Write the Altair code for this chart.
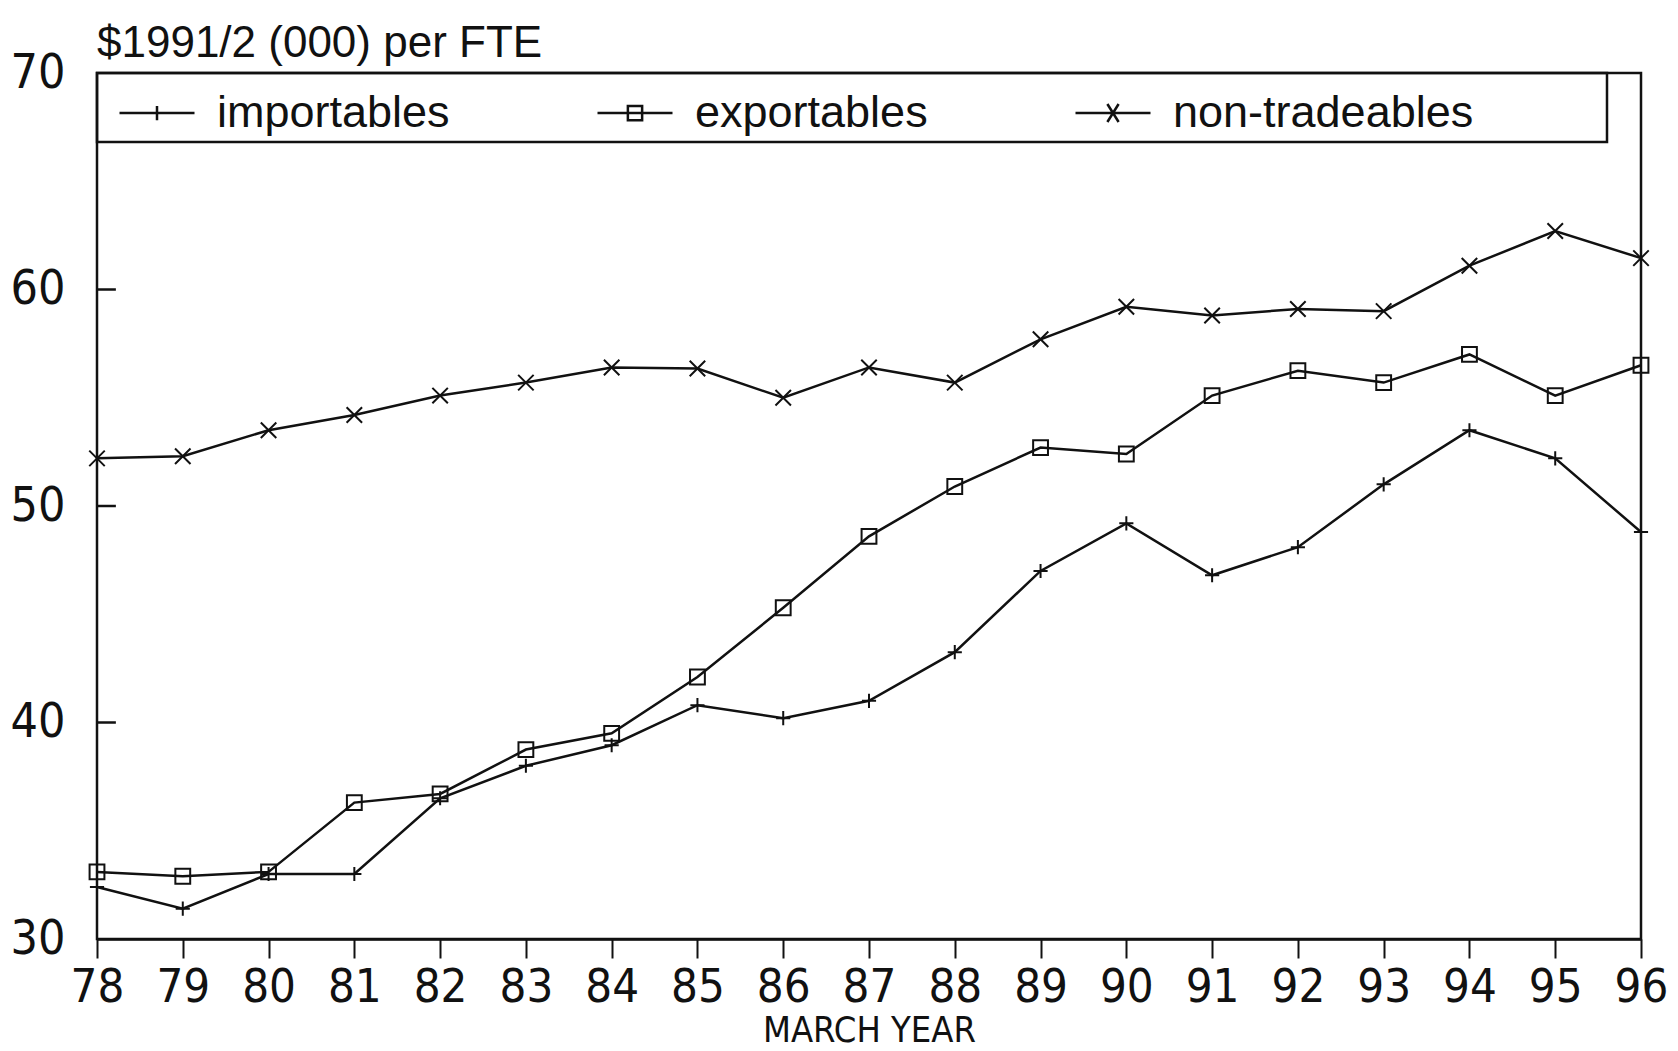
import altair as alt
import pandas as pd

# March years (19xx) and value added per full-time equivalent, $1991/2 (000)
years = list(range(78, 97))
importables = [32.4, 31.4, 33.0, 33.0, 36.5, 38.0, 38.95, 40.8, 40.2, 41.0,
               43.25, 47.0, 49.2, 46.8, 48.1, 51.0, 53.5, 52.2, 48.8]
exportables = [33.1, 32.9, 33.1, 36.3, 36.7, 38.75, 39.5, 42.1, 45.3, 48.6,
               50.9, 52.7, 52.4, 55.1, 56.25, 55.7, 57.0, 55.1, 56.5]
non_tradeables = [52.2, 52.3, 53.5, 54.2, 55.1, 55.7, 56.4, 56.35, 55.0, 56.4,
                  55.7, 57.7, 59.2, 58.8, 59.1, 59.0, 61.1, 62.7, 61.45]

series_names = ["importables", "exportables", "non-tradeables"]
y_tick_values = [30, 40, 50, 60, 70]
inner_tick_values = [40, 50, 60]

rows = []
for name, vals in zip(series_names, [importables, exportables, non_tradeables]):
    for yr, v in zip(years, vals):
        rows.append({"year": yr, "value": v, "series": name})
df = pd.DataFrame(rows)

FONT = "Liberation Sans"
NARROW = "Liberation Sans Narrow, DejaVu Sans Condensed, Liberation Sans"
INK = "#111111"

# marker glyphs (unit paths scaled by Vega to sqrt(size))
PLUS = "M-1,0H1M0,-1V1"
CROSS = "M-1,-1L1,1M-1,1L1,-1"
marker_shapes = [PLUS, "square", CROSS]
marker_sizes = [200, 240, 560]
# legend glyphs: a line segment with the series marker in the middle
legend_shapes = [
    "M-1,0H1M0,-0.19V0.19",
    "M-1,0H1M-0.19,-0.19H0.19V0.19H-0.19Z",
    "M-1,0H1M-0.15,-0.24L0.15,0.24M-0.15,0.24L0.15,-0.24",
]

x_enc = alt.X(
    "year:Q",
    scale=alt.Scale(domain=[78, 96], nice=False, zero=False),
    axis=alt.Axis(
        values=years, format="d", grid=False,
        tickSize=19, tickWidth=2, tickColor=INK,
        domainColor=INK, domainWidth=2.5,
        labelFont=NARROW, labelFontSize=47, labelColor=INK, labelPadding=6,
        labelFlush=False, labelOverlap=False,
        title="MARCH YEAR", titleFont=NARROW, titleFontSize=36,
        titleFontWeight="normal", titleColor=INK, titlePadding=3,
    ),
)
y_enc = alt.Y(
    "value:Q",
    scale=alt.Scale(domain=[30, 70], nice=False, zero=False),
    axis=alt.Axis(
        values=y_tick_values, grid=False, ticks=False, domain=False,
        labelFont=NARROW, labelFontSize=48, labelColor=INK, labelPadding=32,
        labelFlush=False, labelOverlap=False, title=None,
    ),
)

base = alt.Chart(df)

# frame around the legend strip
legend_box = alt.Chart(alt.Data(values=[{}])).mark_rect(
    fillOpacity=0, stroke=INK, strokeWidth=2.5
).encode(
    x=alt.value(0), x2=alt.value(1510), y=alt.value(0), y2=alt.value(69)
)

# short y ticks pointing into the plot
inner_ticks = alt.Chart(pd.DataFrame({"tick": inner_tick_values})).mark_rule(
    color=INK, strokeWidth=2.5
).encode(
    y=alt.Y("tick:Q"), x=alt.datum(78), x2=alt.datum(78.22)
)

lines = base.mark_line(color=INK, strokeWidth=2.5).encode(
    x=x_enc, y=y_enc, detail="series:N"
)

points = base.mark_point(filled=False, color=INK, strokeWidth=2, opacity=1).encode(
    x="year:Q", y="value:Q",
    shape=alt.Shape("series:N", scale=alt.Scale(domain=series_names, range=marker_shapes), legend=None),
    size=alt.Size("series:N", scale=alt.Scale(domain=series_names, range=marker_sizes), legend=None),
)

legend_layer = alt.Chart(pd.DataFrame({"series": series_names})).transform_filter(
    "false"
).mark_point(filled=False, color=INK, strokeWidth=2.5, size=5625, opacity=1).encode(
    shape=alt.Shape(
        "series:N",
        scale=alt.Scale(domain=series_names, range=legend_shapes),
        legend=alt.Legend(
            orient="none", legendX=21, legendY=1, direction="horizontal",
            title=None, symbolSize=5625, symbolStrokeColor=INK,
            symbolFillColor="transparent", symbolStrokeWidth=2.5, symbolOpacity=1,
            labelFont=FONT, labelFontSize=45, labelColor=INK, labelOffset=21,
            labelLimit=0, columnPadding=142, padding=0,
        ),
    )
)

chart = alt.layer(legend_box, inner_ticks, lines, points, legend_layer).resolve_scale(
    shape="independent", size="independent"
).properties(
    width=1544,
    height=866,
    autosize=alt.AutoSizeParams(type="none"),
    padding={"left": 97, "top": 73, "right": 37, "bottom": 112},
    title=alt.Title(
        "$1991/2 (000) per FTE", anchor="start", frame="group",
        font=FONT, fontSize=44, fontWeight="normal", color=INK, offset=8, dy=25,
    ),
    background="white",
).configure_view(stroke=INK, strokeWidth=2.5)

chart.save("out.html", embed_options={"renderer": "svg", "actions": False})
